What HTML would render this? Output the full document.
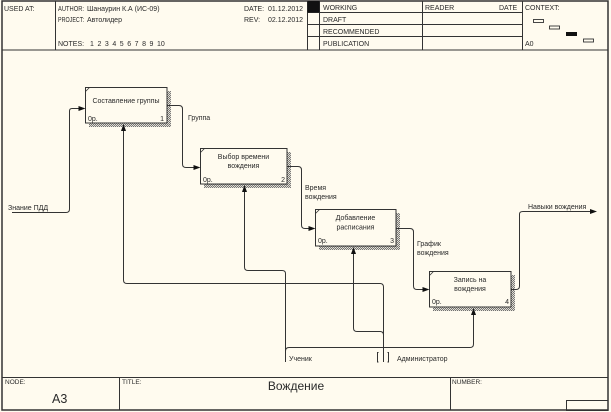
<!DOCTYPE html>
<html>
<head>
<meta charset="utf-8">
<style>
html,body{margin:0;padding:0;background:#fffbef;}
svg{display:block;}
text{font-family:"Liberation Sans",Arial,sans-serif;fill:#2a2a2a;}
.h{font-size:7px;}
.b{font-size:7px;}
.s{font-size:6.5px;}
</style>
</head>
<body>
<svg width="611" height="412" viewBox="0 0 611 412" xmlns="http://www.w3.org/2000/svg">
<defs>
<pattern id="hatch" width="2" height="2" patternUnits="userSpaceOnUse">
<rect width="2" height="2" fill="#fffbef"/>
<path d="M0,2 L2,0" stroke="#666" stroke-width="0.9"/>
</pattern>
</defs>
<rect x="0" y="0" width="611" height="412" fill="#fffbef"/>
<!-- outer border -->
<rect x="2" y="1" width="606" height="409" fill="none" stroke="#333" stroke-width="1.5"/>

<!-- header -->
<g stroke="#333" stroke-width="1" fill="none">
<line x1="2" y1="50" x2="608" y2="50"/>
<line x1="55.5" y1="1" x2="55.5" y2="50"/>
<line x1="307.5" y1="1" x2="307.5" y2="50"/>
<line x1="319.5" y1="1" x2="319.5" y2="50"/>
<line x1="422.5" y1="1" x2="422.5" y2="50"/>
<line x1="522.5" y1="1" x2="522.5" y2="50"/>
<line x1="307" y1="12.5" x2="522" y2="12.5"/>
<line x1="307" y1="24.5" x2="522" y2="24.5"/>
<line x1="307" y1="36.5" x2="522" y2="36.5"/>
</g>
<rect x="307.5" y="1" width="12" height="11.5" fill="#111"/>
<rect x="533.5" y="19.5" width="10" height="3" fill="none" stroke="#333" stroke-width="0.9"/>
<rect x="549.5" y="26" width="10" height="3" fill="none" stroke="#333" stroke-width="0.9"/>
<rect x="566" y="32" width="11" height="4" fill="#111"/>
<rect x="583.5" y="39" width="10" height="3" fill="none" stroke="#333" stroke-width="0.9"/>

<text class="h" x="4" y="11">USED AT:</text>
<text class="h" x="58" y="11" textLength="26" lengthAdjust="spacingAndGlyphs">AUTHOR:</text>
<text class="h" x="87" y="11">Шанаурин К.А (ИС-09)</text>
<text class="h" x="58" y="22" textLength="26" lengthAdjust="spacingAndGlyphs">PROJECT:</text>
<text class="h" x="87" y="22">Автолидер</text>
<text class="h" x="58" y="46">NOTES:</text>
<text class="h" x="90" y="46" word-spacing="1.6">1 2 3 4 5 6 7 8 9 10</text>
<text class="h" x="244" y="11">DATE:</text>
<text class="h" x="268" y="11">01.12.2012</text>
<text class="h" x="244" y="22">REV:</text>
<text class="h" x="268" y="22">02.12.2012</text>
<text class="h" x="323" y="10">WORKING</text>
<text class="h" x="323" y="22">DRAFT</text>
<text class="h" x="323" y="34">RECOMMENDED</text>
<text class="h" x="323" y="46">PUBLICATION</text>
<text class="h" x="425" y="10">READER</text>
<text class="h" x="499" y="10">DATE</text>
<text class="h" x="525" y="10">CONTEXT:</text>
<text class="h" x="525" y="46">A0</text>

<!-- footer -->
<g stroke="#333" stroke-width="1" fill="none">
<line x1="2" y1="377.5" x2="608" y2="377.5"/>
<line x1="119.5" y1="377" x2="119.5" y2="410"/>
<line x1="450.5" y1="377" x2="450.5" y2="410"/>
<rect x="566.5" y="400.5" width="41.5" height="10"/>
</g>
<text class="s" x="5" y="384">NODE:</text>
<text x="52" y="403" style="font-size:12.5px">A3</text>
<text class="s" x="122" y="384">TITLE:</text>
<text x="296" y="390" text-anchor="middle" style="font-size:12px">Вождение</text>
<text class="s" x="452" y="384">NUMBER:</text>

<!-- shadows -->
<g fill="url(#hatch)">
<rect x="167" y="91" width="4" height="36"/><rect x="89" y="123" width="82" height="4"/>
<rect x="287" y="152" width="4" height="36"/><rect x="204" y="184" width="87" height="4"/>
<rect x="396" y="213" width="4" height="37"/><rect x="319" y="246" width="81" height="4"/>
<rect x="511" y="275" width="4" height="36"/><rect x="433" y="307" width="82" height="4"/>
</g>
<!-- boxes -->
<g fill="#fffbef" stroke="#333" stroke-width="1">
<rect x="85.5" y="87.5" width="81.5" height="35.5"/>
<rect x="200.5" y="148.5" width="86.5" height="35.5"/>
<rect x="315.5" y="209.5" width="80.5" height="36.5"/>
<rect x="429.5" y="271.5" width="81.5" height="35.5"/>
</g>
<g stroke="#333" stroke-width="0.8">
<line x1="85.5" y1="91.5" x2="89.5" y2="87.5"/>
<line x1="200.5" y1="152.5" x2="204.5" y2="148.5"/>
<line x1="315.5" y1="213.5" x2="319.5" y2="209.5"/>
<line x1="429.5" y1="275.5" x2="433.5" y2="271.5"/>
</g>

<text class="b" x="126" y="103" text-anchor="middle">Составление группы</text>
<text class="b" x="88" y="121">0р.</text>
<text class="b" x="164" y="121" text-anchor="end">1</text>

<text class="b" x="243.5" y="159" text-anchor="middle">Выбор времени</text>
<text class="b" x="243.5" y="168" text-anchor="middle">вождения</text>
<text class="b" x="203" y="182">0р.</text>
<text class="b" x="285" y="182" text-anchor="end">2</text>

<text class="b" x="355.5" y="220" text-anchor="middle">Добавление</text>
<text class="b" x="355.5" y="229.5" text-anchor="middle">расписания</text>
<text class="b" x="318" y="243">0р.</text>
<text class="b" x="394" y="243" text-anchor="end">3</text>

<text class="b" x="470" y="282" text-anchor="middle">Запись на</text>
<text class="b" x="470" y="291" text-anchor="middle">вождения</text>
<text class="b" x="432" y="304">0р.</text>
<text class="b" x="509" y="304" text-anchor="end">4</text>

<!-- connectors -->
<g fill="none" stroke="#333" stroke-width="1">
<path d="M12,212.5 H66 Q69.5,212.5 69.5,209 V111 Q69.5,108.5 72,108.5 H80"/>
<path d="M123.5,130 V280 Q123.5,283.5 127,283.5 H380 Q383.5,283.5 383.5,287 V362"/>
<path d="M353.5,252 V328 Q353.5,331.5 357,331.5 H380 Q383.5,331.5 383.5,335"/>
<path d="M285.5,362 V273.5 Q285.5,270.5 282,270.5 H248 Q244.5,270.5 244.5,267 V190"/>
<path d="M285.5,351 Q285.5,347.5 289,347.5 H470 Q473.5,347.5 473.5,344 V314"/>
<path d="M378.5,352.5 H377.5 V362 H378.5 M387.5,352.5 H388.5 V362 H387.5"/>
<path d="M167,105.5 H179 Q182.5,105.5 182.5,109 V164 Q182.5,167.5 186,167.5 H195"/>
<path d="M287,166.5 H298 Q301.5,166.5 301.5,170 V225 Q301.5,228.5 305,228.5 H310"/>
<path d="M396,228.5 H410 Q413.5,228.5 413.5,232 V286 Q413.5,289.5 417,289.5 H424"/>
<path d="M511,289.5 H516 Q519.5,289.5 519.5,286 V214 Q519.5,211.5 523,211.5 H591"/>
</g>
<g fill="#111">
<polygon points="85.5,108.5 78.5,106 78.5,111"/>
<polygon points="123.5,124 121,131 126,131"/>
<polygon points="353.5,247 351,254 356,254"/>
<polygon points="244.5,185 242,192 247,192"/>
<polygon points="473.5,308 471,315 476,315"/>
<polygon points="200.5,167.5 193.5,165 193.5,170"/>
<polygon points="315.5,228.5 308.5,226 308.5,231"/>
<polygon points="429.5,289.5 422.5,287 422.5,292"/>
<polygon points="597,211.5 590,209 590,214"/>
</g>

<text class="b" x="8" y="210">Знание ПДД</text>
<text class="b" x="188" y="120">Группа</text>
<text class="b" x="305" y="190">Время</text>
<text class="b" x="305" y="199">вождения</text>
<text class="b" x="417" y="246">График</text>
<text class="b" x="417" y="255">вождения</text>
<text class="b" x="528" y="209">Навыки вождения</text>
<text class="b" x="289" y="361">Ученик</text>
<text class="b" x="397" y="361">Администратор</text>
</svg>
</body>
</html>
